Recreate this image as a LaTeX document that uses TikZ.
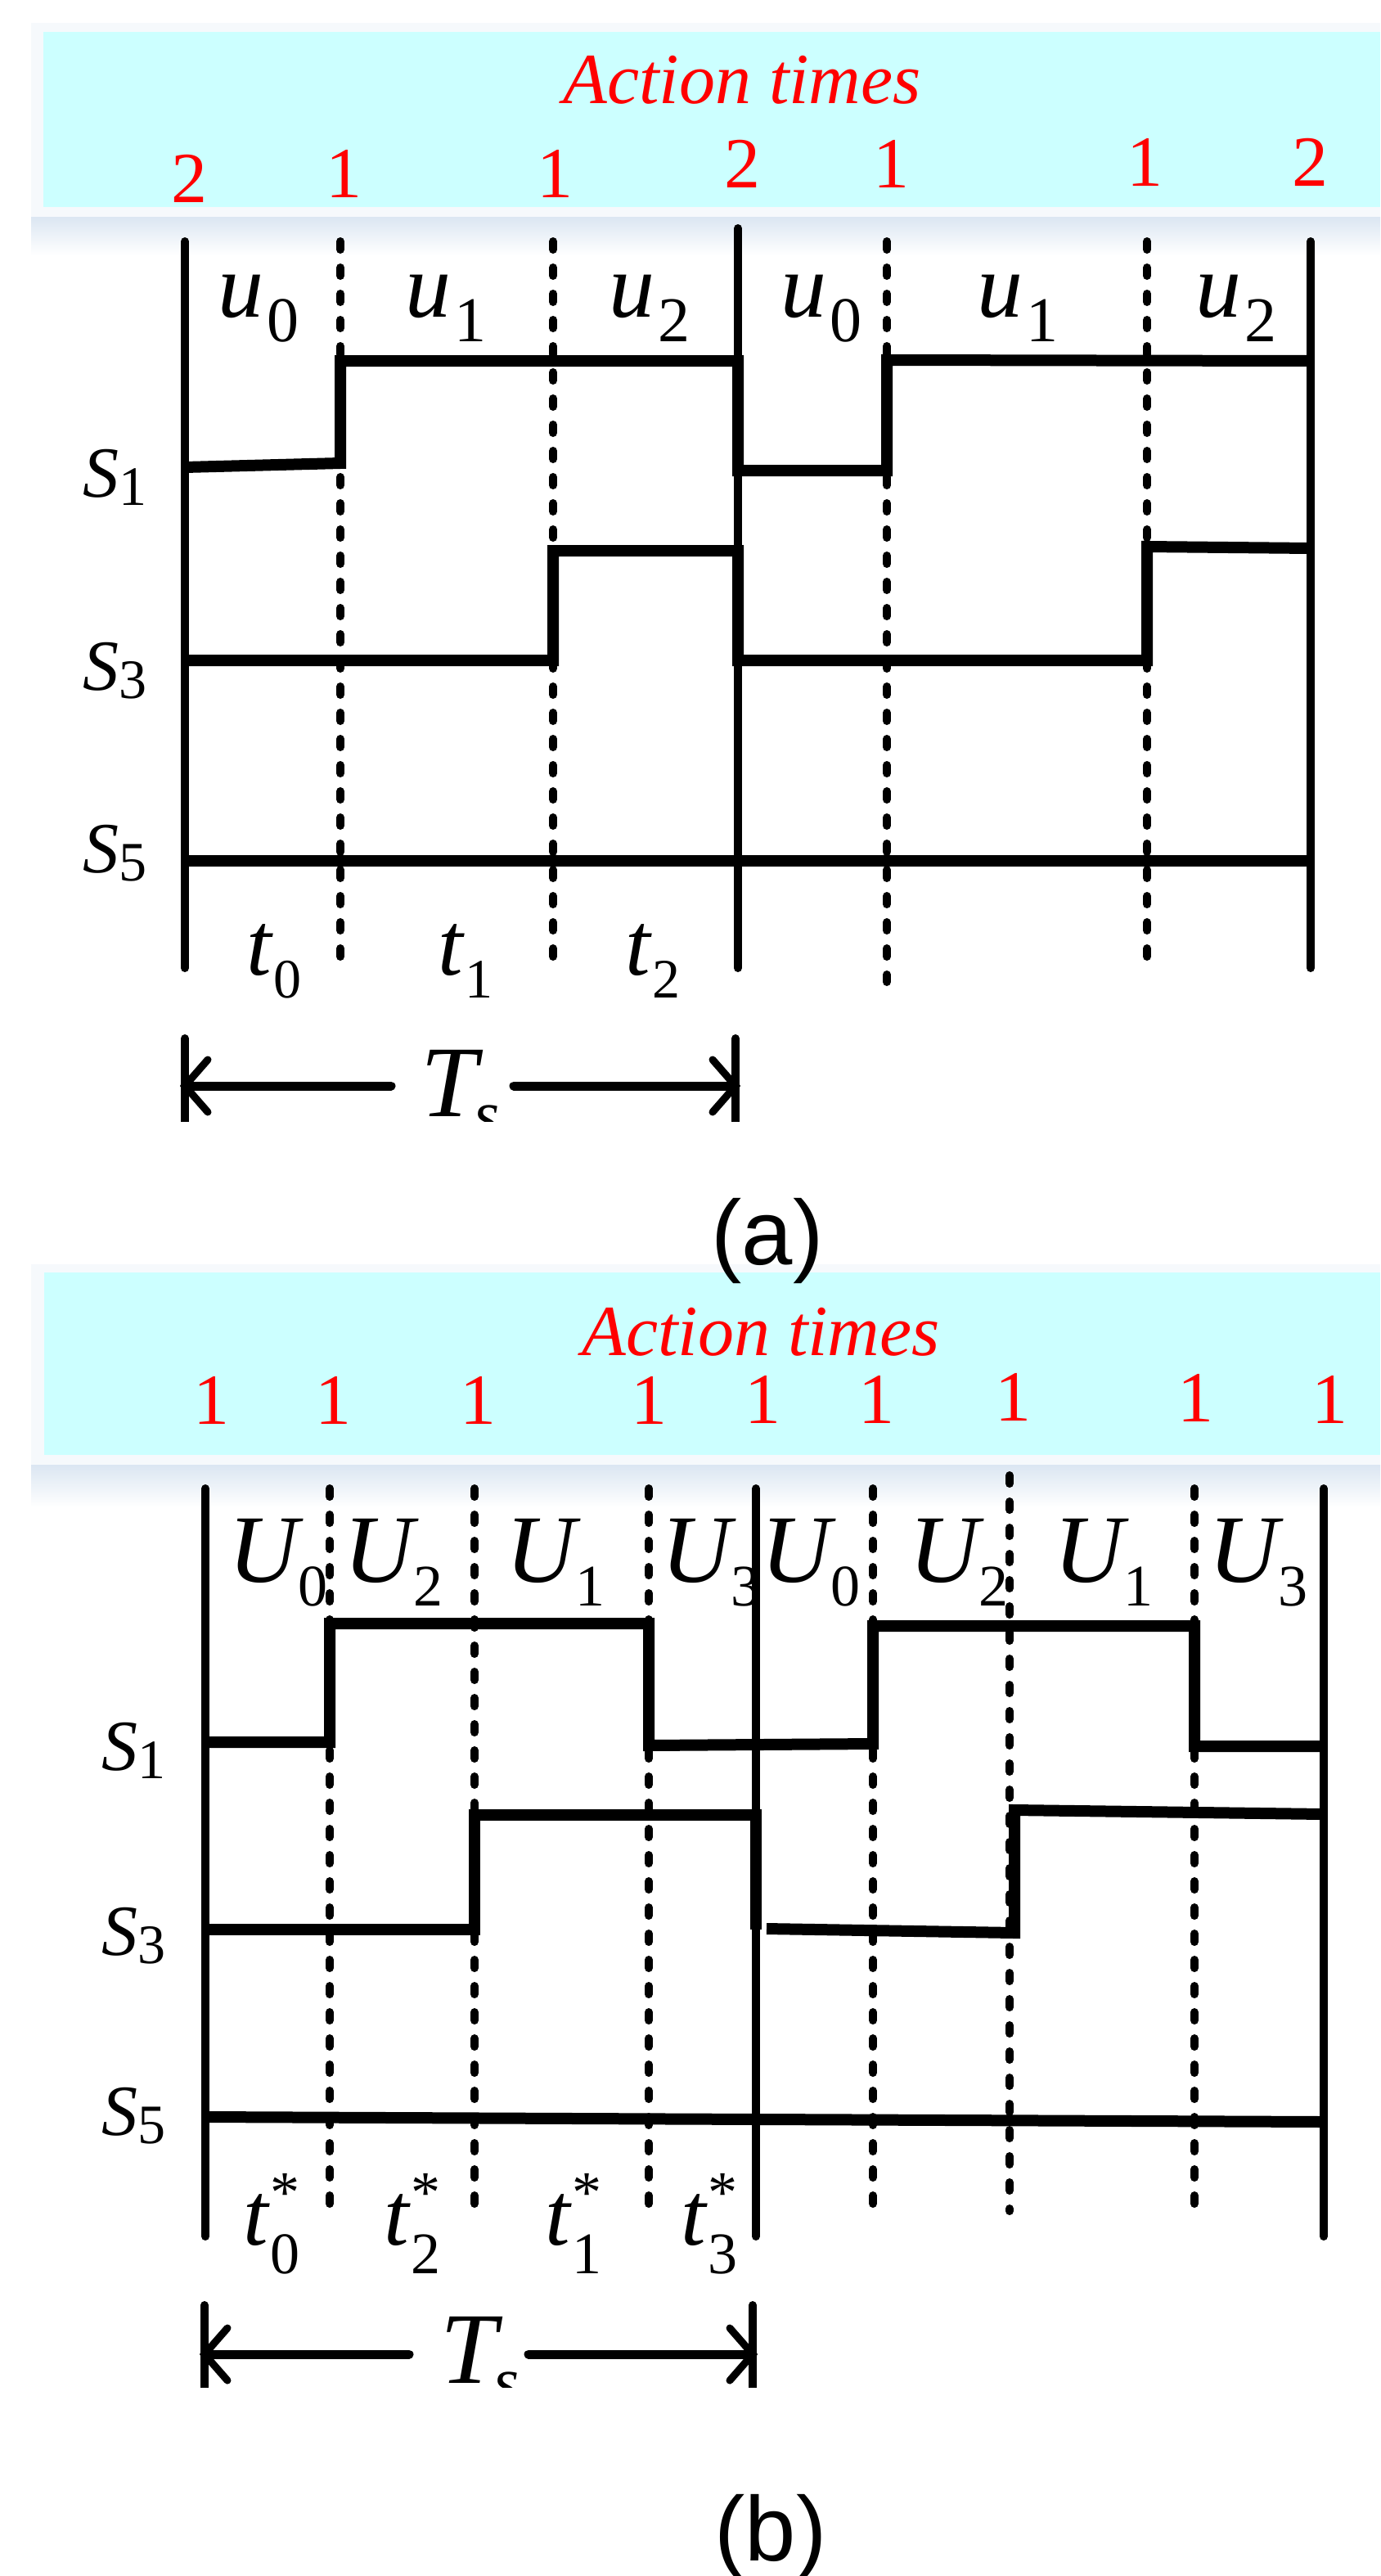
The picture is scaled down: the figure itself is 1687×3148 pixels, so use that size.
\documentclass[tikz,border=0pt]{standalone}
\usepackage{fontspec}
\setmainfont{Liberation Serif}
\newfontfamily\arialfont{Liberation Sans}
\definecolor{bandcyan}{RGB}{204,255,255}
\definecolor{shadowblue}{RGB}{219,230,242}
\definecolor{glowc}{RGB}{246,249,252}
\newcommand{\fs}[1]{\fontsize{#1}{#1}\selectfont}
\newcommand{\ulab}[1]{{\fs{56pt}\itshape u}\kern2pt\raisebox{-15pt}{\fs{39pt}#1}}
\newcommand{\Ulab}[1]{{\fs{59pt}\itshape U}\raisebox{-14.5pt}{\fs{36pt}#1}}
\newcommand{\tlab}[1]{{\fs{55pt}\itshape t}\kern1pt\raisebox{-14pt}{\fs{34pt}#1}}
\newcommand{\tslab}[1]{{\fs{55pt}\itshape t}\kern1pt\makebox[0pt][l]{\raisebox{20pt}{\fs{36pt}*}}\raisebox{-17.5pt}{\fs{36pt}#1}}
\newcommand{\Slab}[1]{{\fs{44pt}\itshape S}\raisebox{-5pt}{\fs{34pt}#1}}
\newcommand{\Tslab}{{\fs{62pt}\itshape T}\kern-2pt\raisebox{-12pt}{\fs{40pt}\itshape s}}
\begin{document}
\begin{tikzpicture}[x=0.5pt,y=-0.5pt,
  solidv/.style={line width=5pt,line cap=round},
  dashv/.style={line width=5pt,line cap=round,dash pattern=on 5pt off 11pt},
  wave/.style={line width=7pt,line join=miter},
  shaft/.style={line width=5.5pt,line cap=round},
  chev/.style={line width=4.5pt,line cap=round,line join=miter},
  digit/.style={text=red,font=\fs{44pt},anchor=base,inner sep=0pt},
  atimes/.style={text=red,font=\fs{44pt}\itshape,anchor=base,inner sep=0pt},
  lab/.style={anchor=base,inner sep=0pt},
  panelcap/.style={anchor=base,inner sep=0pt,font=\arialfont\fs{56pt}}]
\useasboundingbox (0,0) rectangle (1687,3148);
\fill[white] (0,0) rectangle (1687,3148);

% ---------- bands (a)
\fill[glowc] (38,28) rectangle (1687,265);
\fill[bandcyan] (53,39) rectangle (1687,253);
\shade[top color=shadowblue,bottom color=white] (38,265) rectangle (1687,312);
% ---------- bands (b)
\fill[glowc] (38,1545) rectangle (1687,1790);
\fill[bandcyan] (54,1555) rectangle (1687,1778);
\shade[top color=shadowblue,bottom color=white] (38,1790) rectangle (1687,1842);

% ---------- band texts (a)
\node[atimes] (ata) at (907,126) {Action times};
\node[digit] (da1) at (231,247) {2};
\node[digit] (da2) at (420,241) {1};
\node[digit] (da3) at (678,241) {1};
\node[digit] (da4) at (907,229) {2};
\node[digit] (da5) at (1089,229) {1};
\node[digit] (da6) at (1399,227) {1};
\node[digit] (da7) at (1601,227) {2};
% ---------- band texts (b)
\node[atimes] (atb) at (930,1656) {Action times};
\node[digit] (db1) at (258,1740) {1};
\node[digit] (db2) at (407,1740) {1};
\node[digit] (db3) at (584,1740) {1};
\node[digit] (db4) at (793,1740) {1};
\node[digit] (db5) at (932,1739) {1};
\node[digit] (db6) at (1071,1739) {1};
\node[digit] (db7) at (1238,1736) {1};
\node[digit] (db8) at (1461,1737) {1};
\node[digit] (db9) at (1625,1739) {1};

% ================= panel (a)
\draw[solidv] (226,295) -- (226,1183);
\draw[solidv] (902,279) -- (902,1183);
\draw[solidv] (1602,295) -- (1602,1183);
\draw[dashv] (416,295) -- (416,1176);
\draw[dashv] (676,295) -- (676,1176);
\draw[dashv] (1084,295) -- (1084,1200);
\draw[dashv] (1402,295) -- (1402,1170);
% waveforms
\draw[wave] (226,571) -- (416,566) -- (416,441) -- (902,441) -- (902,575) -- (1084,575) -- (1084,440) -- (1602,441);
\draw[wave] (222,807) -- (676,807) -- (676,673) -- (902,673) -- (902,807) -- (1402,807) -- (1402,668) -- (1602,670);
\draw[wave] (222,1052) -- (1602,1052);
% labels
\node[lab] (ua0) at (316,387) {\ulab{0}};
\node[lab] (ua1) at (545,387) {\ulab{1}};
\node[lab] (ua2) at (794,387) {\ulab{2}};
\node[lab] (ua3) at (1004,387) {\ulab{0}};
\node[lab] (ua4) at (1244,387) {\ulab{1}};
\node[lab] (ua5) at (1511,387) {\ulab{2}};
\node[lab] (sa1) at (140,607) {\Slab{1}};
\node[lab] (sa3) at (140,843) {\Slab{3}};
\node[lab] (sa5) at (140,1066) {\Slab{5}};
\node[lab] (ta0) at (335,1191) {\tlab{0}};
\node[lab] (ta1) at (569,1191) {\tlab{1}};
\node[lab] (ta2) at (798,1191) {\tlab{2}};
% Ts (a)
\begin{scope}
\clip (0,1200) rectangle (1687,1370);
\coordinate (aL) at (226,1327);
\coordinate (aR) at (899,1327);
\coordinate (aLe) at (478,1327);
\coordinate (aRs) at (628,1327);
\draw[solidv] (226,1269) -- (226,1400);
\draw[solidv] (899,1269) -- (899,1400);
\draw[shaft] (aL) -- (aLe);
\draw[shaft] (aRs) -- (aR);
\draw[chev] ([xshift=14pt,yshift=16pt]aL) -- (aL) -- ([xshift=14pt,yshift=-16pt]aL);
\draw[chev] ([xshift=-14pt,yshift=16pt]aR) -- (aR) -- ([xshift=-14pt,yshift=-16pt]aR);
\node[lab] (Tsa) at (563,1364) {\Tslab};
\end{scope}
\node[panelcap] (capa) at (938,1545) {(a)};

% ================= panel (b)
\draw[solidv] (251,1819) -- (251,2733);
\draw[solidv] (924,1819) -- (924,2733);
\draw[solidv] (1618,1819) -- (1618,2733);
\draw[dashv] (403,1819) -- (403,2714);
\draw[dashv] (580,1819) -- (580,2714);
\draw[dashv] (793,1819) -- (793,2714);
\draw[dashv] (1067,1819) -- (1067,2714);
\draw[dashv] (1234,1803) -- (1234,2702);
\draw[dashv] (1460,1819) -- (1460,2714);
% waveforms
\draw[wave] (251,2129) -- (403,2129) -- (403,1984) -- (793,1984) -- (793,2133) -- (1067,2131) -- (1067,1987) -- (1460,1987) -- (1460,2134) -- (1616,2134);
\draw[wave] (251,2358) -- (580,2358) -- (580,2218) -- (924,2218) -- (924,2358);
\draw[wave] (937,2357) -- (1240,2362) -- (1240,2212) -- (1618,2217);
\draw[wave] (251,2587) -- (1618,2593);
% labels
\node[lab] (ub0) at (340,1933) {\Ulab{0}};
\node[lab] (ub1) at (481,1933) {\Ulab{2}};
\node[lab] (ub2) at (679,1933) {\Ulab{1}};
\node[lab] (ub3) at (869,1933) {\Ulab{3}};
\node[lab] (ub4) at (991,1933) {\Ulab{0}};
\node[lab] (ub5) at (1172,1933) {\Ulab{2}};
\node[lab] (ub6) at (1349,1933) {\Ulab{1}};
\node[lab] (ub7) at (1538,1933) {\Ulab{3}};
\node[lab] (sb1) at (163,2163) {\Slab{1}};
\node[lab] (sb3) at (163,2389) {\Slab{3}};
\node[lab] (sb5) at (163,2609) {\Slab{5}};
\node[lab] (tb0) at (332,2743) {\tslab{0}};
\node[lab] (tb1) at (504,2743) {\tslab{2}};
\node[lab] (tb2) at (701,2743) {\tslab{1}};
\node[lab] (tb3) at (867,2743) {\tslab{3}};
% Ts (b)
\begin{scope}
\clip (0,2750) rectangle (1687,2917);
\coordinate (bL) at (250,2877);
\coordinate (bR) at (920,2877);
\coordinate (bLe) at (500,2877);
\coordinate (bRs) at (646,2877);
\draw[solidv] (250,2817) -- (250,2950);
\draw[solidv] (920,2817) -- (920,2950);
\draw[shaft] (bL) -- (bLe);
\draw[shaft] (bRs) -- (bR);
\draw[chev] ([xshift=14pt,yshift=16pt]bL) -- (bL) -- ([xshift=14pt,yshift=-16pt]bL);
\draw[chev] ([xshift=-14pt,yshift=16pt]bR) -- (bR) -- ([xshift=-14pt,yshift=-16pt]bR);
\node[lab] (Tsb) at (587,2912) {\Tslab};
\end{scope}
\node[panelcap] (capb) at (942,3129) {(b)};
\end{tikzpicture}
\end{document}
